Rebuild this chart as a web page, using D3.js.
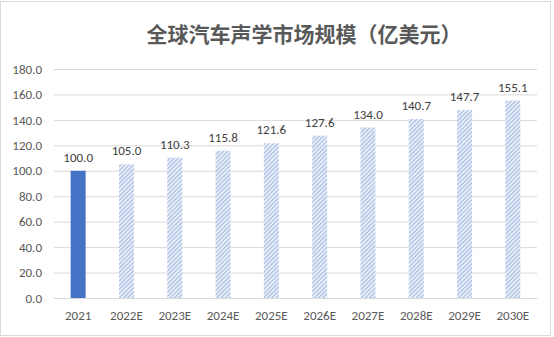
<!DOCTYPE html>
<html>
<head>
<meta charset="utf-8">
<script src="https://cdn.jsdelivr.net/npm/d3@7"></script>
<style>
  body { margin: 0; background: #fff; }
  text { font-family: Calibri, "Liberation Sans", "Noto Sans CJK SC", sans-serif; }
</style>
</head>
<body>
<div id="chart"></div>
<script>
const years = ['2021', '2022E', '2023E', '2024E', '2025E', '2026E', '2027E', '2028E', '2029E', '2030E'];
const values = [100.0, 105.0, 110.3, 115.8, 121.6, 127.6, 134.0, 140.7, 147.7, 155.1];
const yTicks = [0, 20, 40, 60, 80, 100, 120, 140, 160, 180];
const title = '全球汽车声学市场规模（亿美元）';

const [svgWidth, svgHeight] = [554, 337];
const margin = { left: 54, right: 17, top: 69, bottom: 39 };
const [width, height] = [svgWidth - margin.left - margin.right, svgHeight - margin.top - margin.bottom];

function translate(x, y) {
    return 'translate(' + x + ',' + y + ')';
}

let svg = d3.select('#chart').append('svg')
    .attr('width', svgWidth)
    .attr('height', svgHeight);

// hatch pattern for the estimate bars
let defs = svg.append('defs');
let pat = defs.append('pattern')
    .attr('id', 'hatch')
    .attr('patternUnits', 'userSpaceOnUse')
    .attr('width', 3)
    .attr('height', 3)
    .attr('patternTransform', 'rotate(45)');
pat.append('rect').attr('width', 3).attr('height', 3).attr('fill', '#fff');
pat.append('line')
    .attr('x1', 1).attr('y1', 0).attr('x2', 1).attr('y2', 3)
    .attr('stroke', '#7f9fd8').attr('stroke-width', 1.1);

// outer frame
svg.append('rect')
    .attr('x', 0.5).attr('y', 1.5)
    .attr('width', svgWidth - 4).attr('height', svgHeight - 3)
    .attr('fill', '#fff').attr('stroke', '#d9d9d9');

svg.append('text')
    .attr('x', 304).attr('y', 42)
    .attr('text-anchor', 'middle')
    .style('font-family', '"Noto Sans CJK SC", sans-serif')
    .style('font-size', '21px')
    .style('font-weight', 'bold')
    .attr('fill', '#595959')
    .text(title);

let chart = svg.append('g').attr('transform', translate(margin.left, margin.top));

let xScale = d3.scaleBand().domain(years).range([0, width]).paddingInner(0.69).paddingOuter(0.345);
let yScale = d3.scaleLinear().domain([0, 180]).range([height, 0]);

let yAxis = chart.append('g').attr('class', 'yAxis')
    .call(d3.axisLeft(yScale).tickValues(yTicks).tickSize(-width).tickFormat(d3.format('.1f')));
yAxis.select('.domain').remove();
yAxis.selectAll('line').attr('stroke', '#d9d9d9');
yAxis.selectAll('text')
    .attr('x', -12)
    .attr('fill', '#595959')
    .style('font-size', '13px');

let xAxis = chart.append('g').attr('class', 'xAxis')
    .attr('transform', translate(0, height))
    .call(d3.axisBottom(xScale).tickSize(0).tickPadding(13));
xAxis.select('.domain').attr('stroke', '#d9d9d9');
xAxis.selectAll('text')
    .attr('fill', '#595959')
    .style('font-size', '13px');

chart.selectAll('.bar')
    .data(values)
    .enter().append('rect')
    .attr('class', 'bar')
    .attr('x', (d, i) => xScale(years[i]))
    .attr('y', d => yScale(d))
    .attr('width', xScale.bandwidth())
    .attr('height', d => height - yScale(d))
    .attr('fill', (d, i) => i === 0 ? '#4472c4' : 'url(#hatch)');

chart.selectAll('.label')
    .data(values)
    .enter().append('text')
    .attr('class', 'label')
    .attr('x', (d, i) => xScale(years[i]) + xScale.bandwidth() / 2)
    .attr('y', d => yScale(d) - 9)
    .attr('text-anchor', 'middle')
    .attr('fill', '#404040')
    .style('font-size', '13px')
    .text(d => d.toFixed(1));
</script>
</body>
</html>
